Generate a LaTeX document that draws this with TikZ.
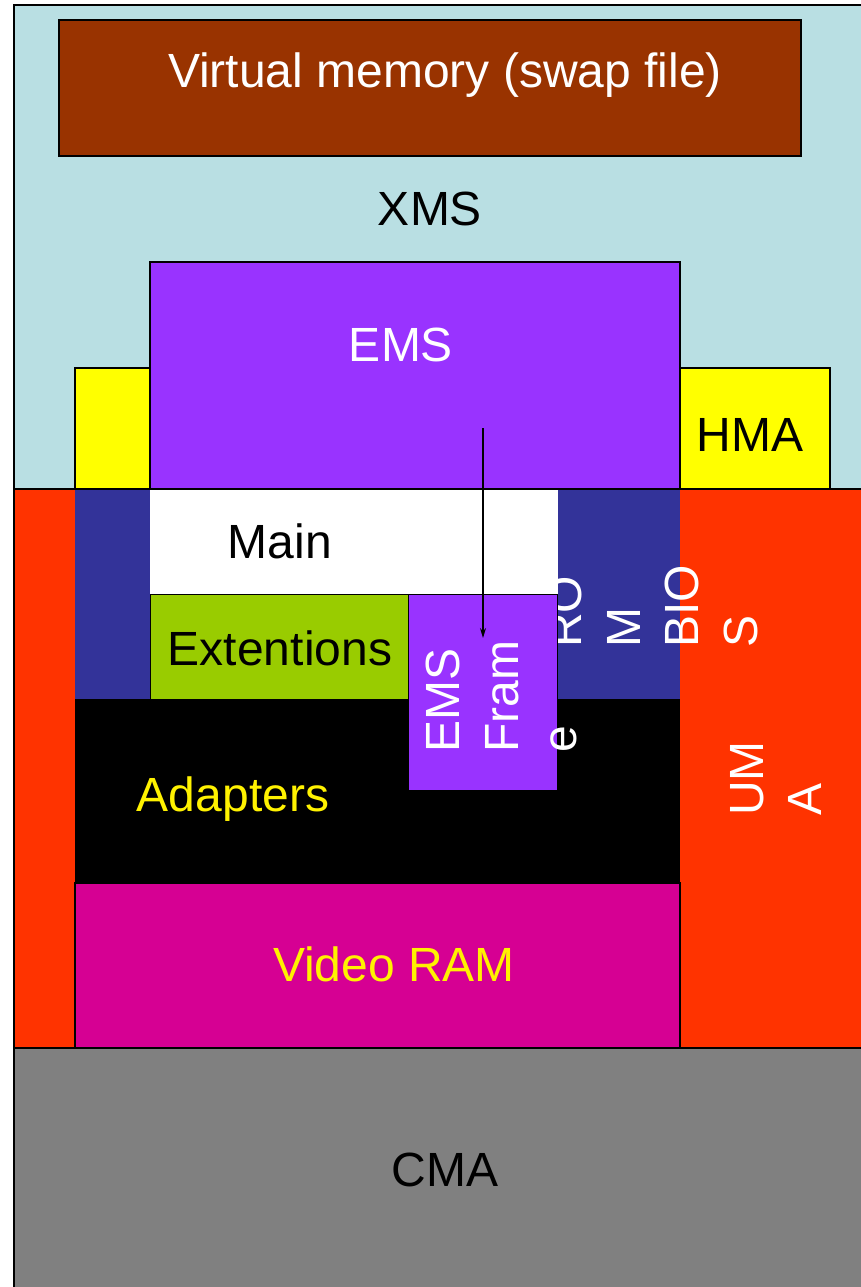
\documentclass[tikz,border=0pt]{standalone}
\usepackage{fontspec}
\setmainfont{Liberation Sans}
\usetikzlibrary{arrows.meta}
\definecolor{xmsblue}{HTML}{B9DFE3}
\definecolor{swapbrown}{HTML}{993300}
\definecolor{emspurple}{HTML}{9933FF}
\definecolor{umared}{HTML}{FF3300}
\definecolor{romnavy}{HTML}{333399}
\definecolor{extgreen}{HTML}{99CC00}
\definecolor{vidmagenta}{HTML}{D60093}
\definecolor{cmagray}{HTML}{808080}
\definecolor{hmayellow}{HTML}{FFFF00}
\begin{document}
\begin{tikzpicture}[x=1pt,y=-1pt,
  block/.style={draw=black,line width=2pt},
  lbl/.style={font=\fontsize{48}{58.5}\selectfont,inner sep=0pt},
  vlbl/.style={lbl,rotate=90,align=left,anchor=north west}]
\useasboundingbox (0,0) rectangle (861,1287);
\clip (0,0) rectangle (861,1287);
% extended memory area
\filldraw[block,fill=xmsblue] (14,5) rectangle (880,489);
\filldraw[block,fill=swapbrown] (59,20) rectangle (801,156);
\filldraw[block,fill=hmayellow] (75,368) rectangle (830,489);
\filldraw[block,fill=emspurple] (150,262) rectangle (680,489);
% upper memory area
\filldraw[block,fill=umared] (14,489) rectangle (880,1048);
\fill[romnavy] (75,490) rectangle (680,699);
\node[vlbl,white] (rom) at (548,648) {RO\\M\\BIO\\S};
\fill[white] (150,490) rectangle (558,594);
\filldraw[draw=black,line width=1pt,fill=extgreen] (150,594) rectangle (408,699);
\fill[black] (75,699) rectangle (680,883);
\filldraw[draw=black,line width=1pt,fill=emspurple] (408,594) rectangle (557,790);
\filldraw[block,fill=vidmagenta] (75,883) rectangle (680,1048);
% conventional memory area
\filldraw[block,fill=cmagray] (14,1048) rectangle (880,1300);
% labels
\node[lbl,white] (swap) at (445,75) {Virtual memory (swap file)};
\node[lbl] (xms) at (430,209) {XMS};
\node[lbl,white] (ems) at (401,345) {EMS};
\node[lbl] (hma) at (750,435) {HMA};
\node[lbl] (main) at (280,541) {Main};
\node[lbl] (ext) at (280,648) {Extentions};
\node[lbl,yellow] (adp) at (233,799) {Adapters};
\node[lbl,yellow] (vid) at (394,964) {Video RAM};
\node[lbl] (cma) at (445,1170) {CMA};
\node[vlbl,white] (frame) at (426,753) {EMS\\Fram\\e};
\node[vlbl,white] (uma) at (730,816) {UM\\A};
% mapping of EMS pages into the page frame
\coordinate (emsfrom) at (483,428);
\coordinate (emsto) at (483,638);
\draw[line width=1.2pt,-{Stealth[length=10pt,width=6pt]}] (emsfrom) -- (emsto);
\end{tikzpicture}
\end{document}
